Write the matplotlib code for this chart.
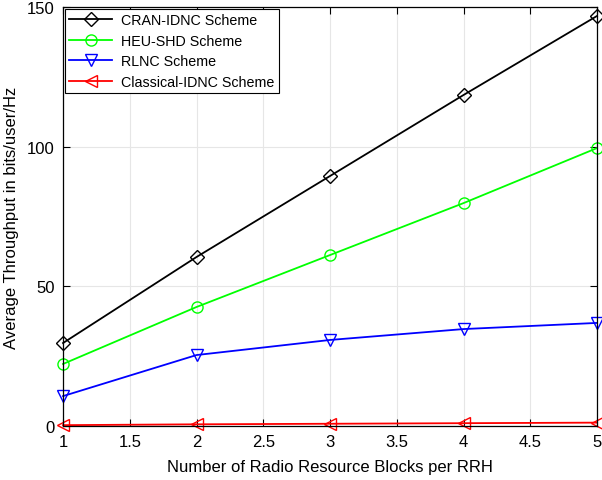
import numpy as np
import matplotlib.pyplot as plt

plt.rcParams['font.family'] = ['Liberation Sans', 'DejaVu Sans']

# 数据
blocks = [1, 2, 3, 4, 5]
cran_idnc = [29.7, 60.5, 89.5, 118.5, 146.8]
heu_shd = [22.2, 42.6, 61.2, 79.8, 99.5]
rlnc = [10.7, 25.4, 30.8, 34.7, 36.9]
classical_idnc = [0.3, 0.6, 0.8, 1.0, 1.2]

fig = plt.figure(figsize=(6.02, 4.81), dpi=100)
ax = fig.add_axes([0.1047, 0.1123, 0.887, 0.871])

ax.plot(blocks, cran_idnc, color='k', marker='D', markersize=7, mfc='none', lw=1.3, clip_on=False, label='CRAN-IDNC Scheme')
ax.plot(blocks, heu_shd, color='#00ff00', marker='o', markersize=8, mfc='none', lw=1.3, clip_on=False, label='HEU-SHD Scheme')
ax.plot(blocks, rlnc, color='b', marker='v', markersize=8, mfc='none', lw=1.3, clip_on=False, label='RLNC Scheme')
ax.plot(blocks, classical_idnc, color='r', marker='<', markersize=8, mfc='none', lw=1.3, clip_on=False, label='Classical-IDNC Scheme')

ax.set_xlim(1, 5)
ax.set_ylim(0, 150)
ax.set_xticks([1, 1.5, 2, 2.5, 3, 3.5, 4, 4.5, 5])
ax.set_xticklabels(['1', '1.5', '2', '2.5', '3', '3.5', '4', '4.5', '5'])
ax.set_yticks([0, 50, 100, 150])
ax.tick_params(direction='in', labelsize=12, top=True, right=True, length=5, pad=6)
ax.grid(True, color='#e6e6e6', lw=0.8)
ax.set_axisbelow(True)
for s in ax.spines.values():
    s.set_linewidth(0.9)

ax.set_xlabel('Number of Radio Resource Blocks per RRH', fontsize=12, labelpad=7)
ax.set_ylabel('Average Throughput in bits/user/Hz', fontsize=12, labelpad=6)

leg = ax.legend(loc='upper left', fontsize=10.3, fancybox=False, framealpha=1,
                edgecolor='k', borderaxespad=0.15, handlelength=3.0, handletextpad=0.6,
                labelspacing=0.45, borderpad=0.3)
leg.get_frame().set_linewidth(0.8)
leg.set_zorder(5)

fig.savefig('out.png', dpi=100)
